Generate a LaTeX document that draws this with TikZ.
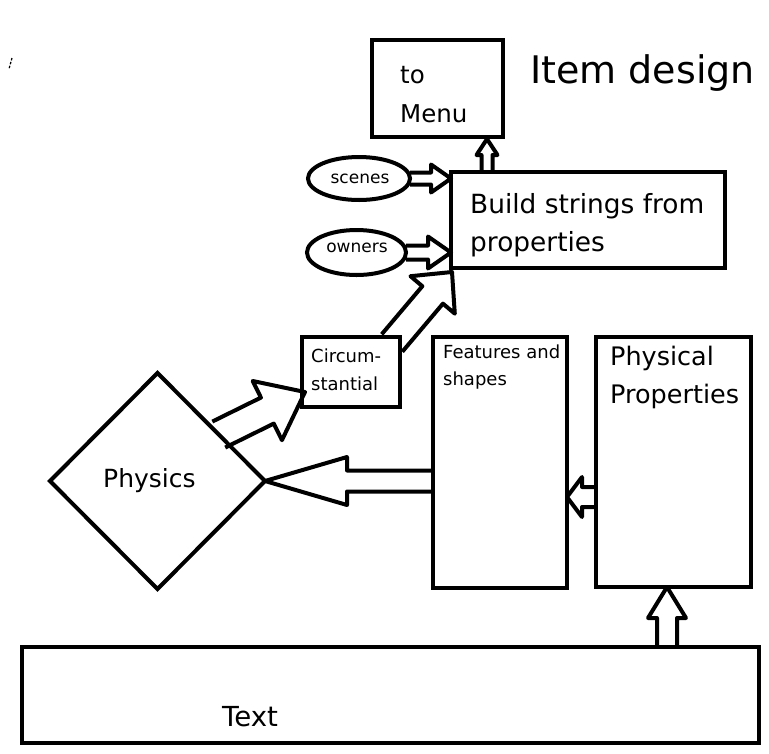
\documentclass[tikz,border=0pt]{standalone}
\usepackage{fontspec}
\setmainfont{DejaVu Sans}
\usetikzlibrary{shapes.geometric,calc}

% hollow block arrow: tail, tip, shaft half-width, head half-width, head length
\newcommand{\blockarrow}[5]{%
  \coordinate (ba-h) at ($(#2)!#5!(#1)$);
  \draw[blockline] ($(#1)!#3!90:(#2)$) -- ($(ba-h)!#3!-90:(#1)$) -- ($(ba-h)!#4!-90:(#1)$) -- (#2)
    -- ($(ba-h)!#4!90:(#1)$) -- ($(ba-h)!#3!90:(#1)$) -- ($(#1)!#3!-90:(#2)$);
}

\begin{document}
\begin{tikzpicture}[x=1pt,y=-1pt,
  box/.style={draw, line width=4.5pt, rectangle, inner sep=0pt, outer sep=0pt},
  oval/.style={draw, line width=4pt, ellipse, inner sep=0pt, outer sep=0pt},
  blockline/.style={line width=4pt, line join=round},
  lbl/.style={inner sep=0pt, anchor=base west},
  olbl/.style={inner sep=0pt, anchor=base, font=\fontsize{17}{20}\selectfont}]
\useasboundingbox (0,0) rectangle (769,753);
\fill[white] (0,0) rectangle (769,753);

% shapes
\node[box, minimum width=131pt, minimum height=97pt] (menu) at (437.5,88.5) {};
\node[box, minimum width=274pt, minimum height=96pt] (build) at (588,220) {};
\node[box, minimum width=98pt, minimum height=70pt] (circ) at (351,372) {};
\node[box, minimum width=134pt, minimum height=251pt] (feat) at (500,462.5) {};
\node[box, minimum width=155pt, minimum height=250pt] (pprop) at (673.5,462) {};
\node[box, minimum width=737pt, minimum height=96pt] (textbox) at (390.5,695) {};
\node[oval, minimum width=102pt, minimum height=43pt] (scenes) at (359,178.5) {};
\node[oval, minimum width=99pt, minimum height=45pt] (owners) at (356.5,252.5) {};
\node[diamond, draw, line width=4pt, minimum width=215pt, minimum height=216pt,
      inner sep=0pt, outer sep=0pt] (physics) at (157.5,481) {};

% texts
\node[lbl, font=\fontsize{38}{44}\selectfont] (title) at (530,83) {Item design};
\node[lbl, font=\fontsize{24.5}{39}\selectfont] (menu-text) at (400,83) {\vtop{\hbox{to}\hbox{Menu}}};
\node[lbl, font=\fontsize{26.4}{38}\selectfont] (build-text) at (470,213) {\vtop{\hbox{Build strings from}\hbox{properties}}};
\node[lbl, font=\fontsize{18}{28}\selectfont] (circ-text) at (311,362) {\vtop{\hbox{Circum-}\hbox{stantial}}};
\node[lbl, font=\fontsize{18}{27.5}\selectfont] (feat-text) at (443,358) {\vtop{\hbox{Features and}\hbox{shapes}}};
\node[lbl, font=\fontsize{25.5}{38}\selectfont] (pprop-text) at (610,365) {\vtop{\hbox{Physical}\hbox{Properties}}};
\node[lbl, font=\fontsize{25}{30}\selectfont] (physics-text) at (103,487) {Physics};
\node[lbl, font=\fontsize{27.6}{32}\selectfont] (text-text) at (222,726) {Text};
\node[olbl] (scenes-text) at (360,183) {scenes};
\node[olbl] (owners-text) at (357,252) {owners};

% arrow end points
\coordinate (up-tail) at ($(build.north west)+(36,0)$);
\coordinate (up-tip) at ($(menu.south west)+(115,2)$);
\coordinate (sc-tail) at (scenes.east);
\coordinate (sc-tip) at (build.west |- scenes.east);
\coordinate (ow-tail) at (owners.east);
\coordinate (ow-tip) at (build.west |- owners.east);
\coordinate (ci-tail) at ($(circ.north east)+(-8,6)$);
\coordinate (ci-tip) at ($(build.south west)+(1,4)$);
\coordinate (ph-tail) at ($(physics.north)!0.57!(physics.east)$);
\coordinate (ph-tip) at ($(circ.west)+(3,20)$);
\coordinate (fe-tail) at (feat.west |- physics.east);
\coordinate (fe-tip) at (physics.east);
\coordinate (pp-tail) at ($(pprop.west)+(0,35)$);
\coordinate (pp-tip) at (feat.east |- pp-tail);
\coordinate (tx-tail) at ($(textbox.north west)+(645,0)$);
\coordinate (tx-tip) at ($(pprop.south west)+(71,0)$);

% block arrows
\blockarrow{up-tail}{up-tip}{5.5pt}{10.5pt}{16pt}
\blockarrow{sc-tail}{sc-tip}{6pt}{14pt}{20pt}
\blockarrow{ow-tail}{ow-tip}{7pt}{16pt}{23pt}
\blockarrow{ci-tail}{ci-tip}{13.5pt}{29pt}{30pt}
\blockarrow{ph-tail}{ph-tip}{14.5pt}{33pt}{42pt}
\blockarrow{fe-tail}{fe-tip}{10.5pt}{24pt}{82pt}
\blockarrow{pp-tail}{pp-tip}{10pt}{20pt}{15pt}
\blockarrow{tx-tail}{tx-tip}{10pt}{19pt}{31pt}

% stray pen mark at top left
\coordinate (stray-a) at (12,58);
\coordinate (stray-b) at (9,69);
\draw[line width=1.2pt, dash pattern=on 2.5pt off 1.5pt] (stray-a) -- (stray-b);
\end{tikzpicture}
\end{document}
